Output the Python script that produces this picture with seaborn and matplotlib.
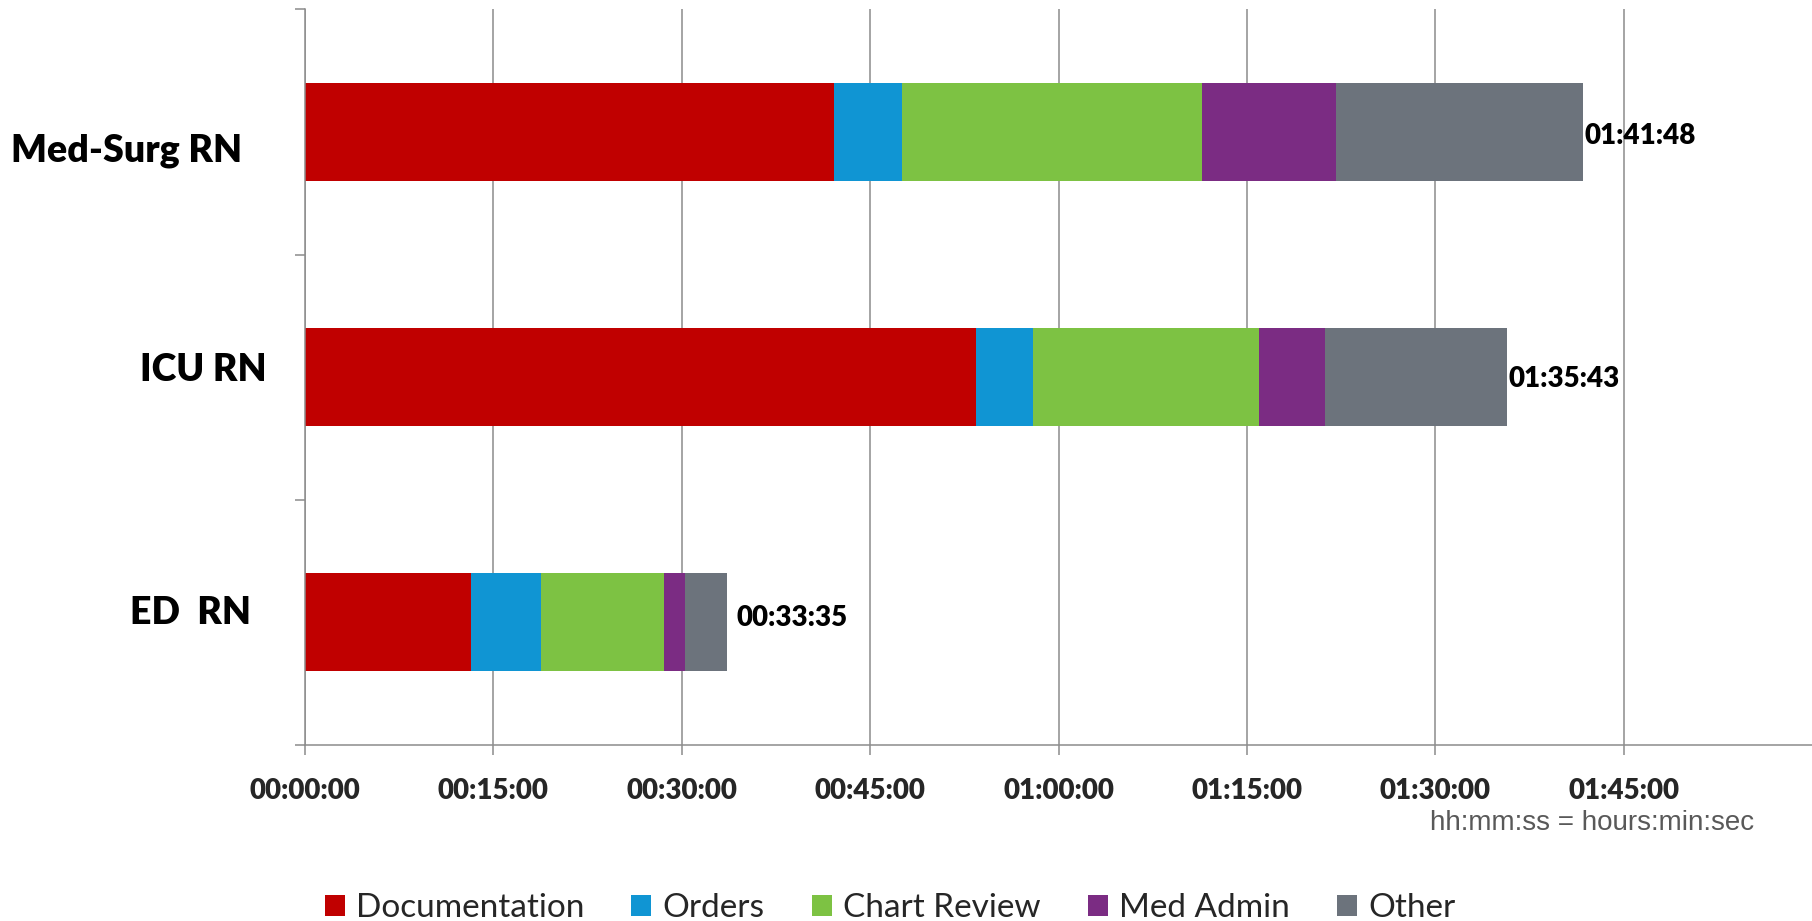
import numpy as np
import pandas as pd
import matplotlib
matplotlib.use("Agg")
import matplotlib.pyplot as plt
from matplotlib.patches import Patch
from matplotlib.ticker import FuncFormatter, FixedLocator
import seaborn as sns

# ---- data (minutes) ----
roles = ["Med-Surg RN", "ICU RN", "ED  RN"]
activities = ["Documentation", "Orders", "Chart Review", "Med Admin", "Other"]
documentation = [42.10, 53.46, 13.22]
orders = [5.46, 4.54, 5.59]
chart_review = [23.89, 18.00, 9.80]
med_admin = [10.65, 5.26, 1.64]
other = [19.70, 14.46, 3.33]
x_ticks_min = [0, 15, 30, 45, 60, 75, 90, 105]

colors = ["#C00000", "#1095D3", "#7DC243", "#7B2C83", "#6C737C"]

sns.set_theme(style="white")
plt.rcParams["font.family"] = ["Lato", "DejaVu Sans"]

W, H = 1812, 921
fig = plt.figure(figsize=(W / 100, H / 100), dpi=100)
ax = fig.add_axes([305 / W, (H - 745) / H, (W - 305) / W, 735.5 / H])

series = [documentation, orders, chart_review, med_admin, other]
cum = np.cumsum(np.array(series), axis=0)  # stacked ends
for i in reversed(range(len(activities))):
    d = pd.DataFrame({"role": roles, "end": cum[i]})
    sns.barplot(data=d, x="end", y="role", order=roles, orient="h",
                color=colors[i], saturation=1, width=0.4, errorbar=None,
                ax=ax, linewidth=0)

# axes style
ax.set_xlim(0, 120)
ax.set_ylim(2.5, -0.5)
ax.set_xlabel("")
ax.set_ylabel("")
ax.xaxis.set_major_locator(FixedLocator(x_ticks_min))


def fmt(v, pos=None):
    s = int(round(v * 60))
    return f"{s // 3600:02d}:{(s % 3600) // 60:02d}:{s % 60:02d}"


ax.xaxis.set_major_formatter(FuncFormatter(fmt))
ax.set_yticks([-0.5, 0.5, 1.5, 2.5])
ax.set_yticklabels([])
grid_c = "#8C8C8C"
ax.grid(axis="x", color=grid_c, linewidth=1.1)
ax.set_axisbelow(True)
for s in ["top", "right"]:
    ax.spines[s].set_visible(False)
for s in ["left", "bottom"]:
    ax.spines[s].set_color(grid_c)
    ax.spines[s].set_linewidth(1.1)
ax.tick_params(axis="x", direction="out", length=7, width=1.1, color=grid_c,
               labelsize=20, pad=17, bottom=True)
ax.tick_params(axis="y", direction="out", length=7, width=1.1, color=grid_c,
               left=True)
for lab in ax.get_xticklabels():
    lab.set_fontweight("heavy")

# total labels at bar ends
totals = cum[-1]
label_dx_px = [1, 1, 10]
label_dy_px = [-3.5, -2, 4.5]
for j, t in enumerate(totals):
    ax.annotate(fmt(t), xy=(t, j),
                xytext=(label_dx_px[j] * 0.72, label_dy_px[j] * 0.72),
                textcoords="offset points", ha="left", va="center",
                fontsize=20, fontweight="heavy", color="black")

# category labels (manually placed text boxes in original)
cat_xy_px = [(127, 151), (203, 370), (190, 613)]
for name, (px, py) in zip(roles, cat_xy_px):
    fig.text(px / W, 1 - py / H, name, ha="center", va="center",
             fontsize=27, fontweight="heavy", color="black")

fig.text(1754 / W, 1 - 823 / H, "hh:mm:ss = hours:min:sec", ha="right",
         va="center", fontsize=20, color="#595959",
         family=["Liberation Sans", "DejaVu Sans"])

handles = [Patch(facecolor=c, edgecolor="none") for c in colors]
fig.legend(handles, activities, loc="center", ncol=5, frameon=False,
           bbox_to_anchor=(890 / W, 1 - 908 / H), fontsize=24,
           handlelength=0.6, handleheight=0.6, handletextpad=0.35,
           columnspacing=1.4, borderaxespad=0, borderpad=0)

fig.savefig("out.png", dpi=100)
